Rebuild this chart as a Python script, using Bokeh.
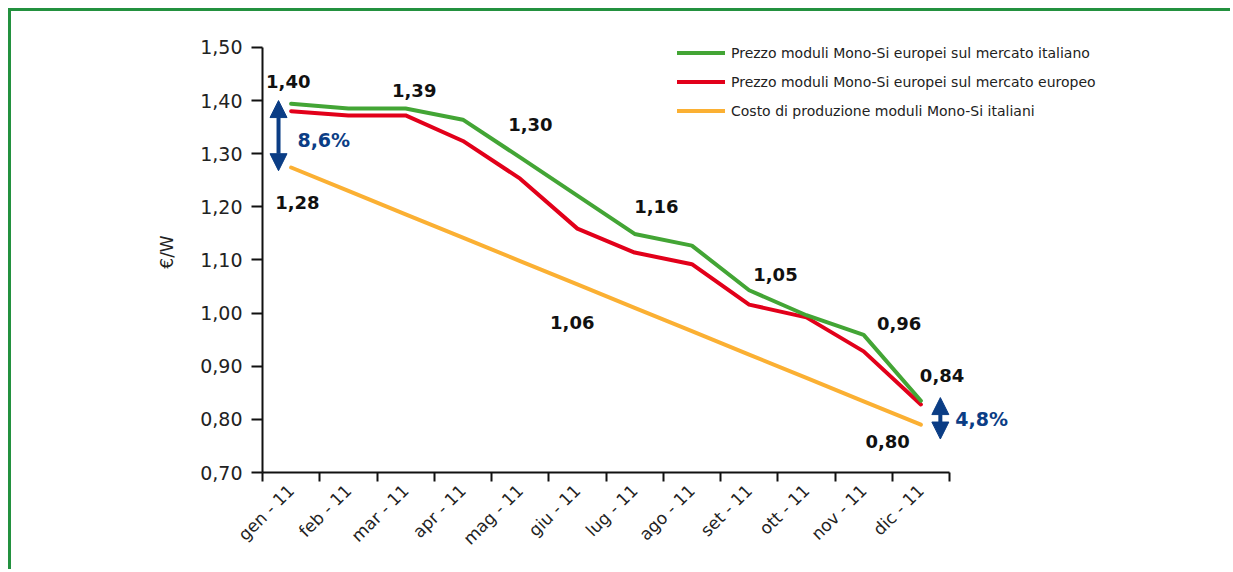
from math import pi
from bokeh.plotting import figure
from bokeh.models import (Range1d, FixedTicker, Legend, LegendItem, Arrow,
                          NormalHead, ColumnDataSource)
from bokeh.core.properties import value
from bokeh.embed import file_html
from bokeh.resources import INLINE

# ---------------- data ----------------
months = ["gen - 11", "feb - 11", "mar - 11", "apr - 11", "mag - 11", "giu - 11",
          "lug - 11", "ago - 11", "set - 11", "ott - 11", "nov - 11", "dic - 11"]
prezzo_italiano = [1.394, 1.385, 1.385, 1.364, 1.293, 1.221, 1.149, 1.127, 1.043, 0.996, 0.959, 0.835]
prezzo_europeo = [1.380, 1.372, 1.372, 1.324, 1.253, 1.159, 1.114, 1.092, 1.016, 0.992, 0.928, 0.828]
costo_italiano = [1.274, 1.230, 1.186, 1.142, 1.098, 1.054, 1.010, 0.966, 0.922, 0.878, 0.834, 0.790]
series_names = ["Prezzo moduli Mono-Si europei sul mercato italiano",
                "Prezzo moduli Mono-Si europei sul mercato europeo",
                "Costo di produzione moduli Mono-Si italiani"]
y_ticks = [0.70, 0.80, 0.90, 1.00, 1.10, 1.20, 1.30, 1.40, 1.50]
y_tick_labels = ["0,70", "0,80", "0,90", "1,00", "1,10", "1,20", "1,30", "1,40", "1,50"]

value_labels = ["1,40", "1,39", "1,30", "1,16", "1,05", "0,96", "0,84", "1,28", "1,06", "0,80"]
value_label_x = [0.45, 2.65, 4.68, 6.88, 8.96, 11.12, 11.87, 0.61, 5.41, 10.92]
value_label_y = [1.435, 1.419, 1.355, 1.201, 1.073, 0.980, 0.882, 1.209, 0.982, 0.758]

gap_labels = ["8,6%", "4,8%"]
gap_label_x = [1.07, 12.56]
gap_label_y = [1.325, 0.801]
gap_arrow_x = [0.28, 11.84]
gap_arrow_top = [1.400, 0.841]
gap_arrow_bottom = [1.268, 0.763]

# ---------------- styles ----------------
GREEN = "#43a535"
RED = "#e2001a"
YELLOW = "#fbb033"
BLUE = "#0b3d85"
FRAME = "#23913f"
FONT = "DejaVu Sans"

xs = [i + 0.5 for i in range(len(months))]

p = figure(width=1222, height=561, output_backend="svg", toolbar_location=None,
           x_range=Range1d(0, 14.847), y_range=Range1d(0.70, 1.53),
           min_border_left=251, min_border_right=121, min_border_top=20,
           min_border_bottom=100)
p.styles = {"border-left": f"3px solid {FRAME}", "border-top": f"3px solid {FRAME}",
            "margin-left": "8px", "margin-top": "8px"}
p.grid.visible = False
p.outline_line_color = None
p.background_fill_color = "white"
p.border_fill_color = "white"

# x axis
xa = p.xaxis[0]
xa.ticker = FixedTicker(ticks=xs, minor_ticks=list(range(len(months) + 1)))
xa.major_label_overrides = {x: m for x, m in zip(xs, months)}
xa.bounds = (0, len(months))
xa.major_tick_line_color = None
xa.major_tick_out = 9
xa.major_tick_in = 0
xa.minor_tick_out = 9
xa.minor_tick_in = 0
xa.minor_tick_line_width = 2
xa.minor_tick_line_color = "#111111"
xa.axis_line_width = 2
xa.axis_line_color = "#111111"
xa.major_label_orientation = pi / 4
xa.major_label_text_font = FONT
xa.major_label_text_font_size = "17px"
xa.major_label_text_color = "#222222"
xa.major_label_standoff = 6

# y axis
ya = p.yaxis[0]
ya.ticker = FixedTicker(ticks=y_ticks, minor_ticks=[])
ya.major_label_overrides = {t: l for t, l in zip(y_ticks, y_tick_labels)}
ya.bounds = (0.70, 1.50)
ya.major_tick_out = 11
ya.major_tick_in = 0
ya.major_tick_line_width = 2
ya.major_tick_line_color = "#111111"
ya.minor_tick_line_color = None
ya.axis_line_width = 2
ya.axis_line_color = "#111111"
ya.major_label_text_font = FONT
ya.major_label_text_font_size = "19px"
ya.major_label_text_color = "#222222"
ya.major_label_standoff = 9
ya.axis_label = "€/W"
ya.axis_label_text_font = FONT
ya.axis_label_text_font_size = "17px"
ya.axis_label_text_font_style = "normal"
ya.axis_label_text_color = "#222222"
ya.axis_label_standoff = 20

# series
r_yel = p.line(xs, costo_italiano, line_color=YELLOW, line_width=4, line_join="round", line_cap="round")
r_red = p.line(xs, prezzo_europeo, line_color=RED, line_width=4, line_join="round", line_cap="round")
r_grn = p.line(xs, prezzo_italiano, line_color=GREEN, line_width=4, line_join="round", line_cap="round")

# value labels
src = ColumnDataSource(dict(x=value_label_x, y=value_label_y, t=value_labels))
p.text(x="x", y="y", text="t", source=src, text_font=value(FONT), text_font_style="bold",
       text_font_size="18px", text_align="center", text_baseline="middle", text_color="#111111")

gsrc = ColumnDataSource(dict(x=gap_label_x, y=gap_label_y, t=gap_labels))
p.text(x="x", y="y", text="t", source=gsrc, text_font=value(FONT), text_font_style="bold",
       text_font_size="19px", text_align="center", text_baseline="middle", text_color=BLUE)

for ax, top, bot in zip(gap_arrow_x, gap_arrow_top, gap_arrow_bottom):
    p.add_layout(Arrow(x_start=ax, y_start=bot, x_end=ax, y_end=top,
                       line_color=BLUE, line_width=4,
                       start=NormalHead(size=17, fill_color=BLUE, line_color=BLUE, line_width=1),
                       end=NormalHead(size=17, fill_color=BLUE, line_color=BLUE, line_width=1)))

legend = Legend(items=[LegendItem(label=series_names[0], renderers=[r_grn]),
                       LegendItem(label=series_names[1], renderers=[r_red]),
                       LegendItem(label=series_names[2], renderers=[r_yel])],
                location=(415, 347), glyph_width=48, glyph_height=29, label_height=29,
                spacing=0, padding=0, margin=0, border_line_color=None,
                background_fill_alpha=0, label_text_font=FONT,
                label_text_font_size="14px", label_text_color="#222222", label_standoff=6)
p.add_layout(legend)

open("out.html", "w").write(file_html(p, INLINE))
